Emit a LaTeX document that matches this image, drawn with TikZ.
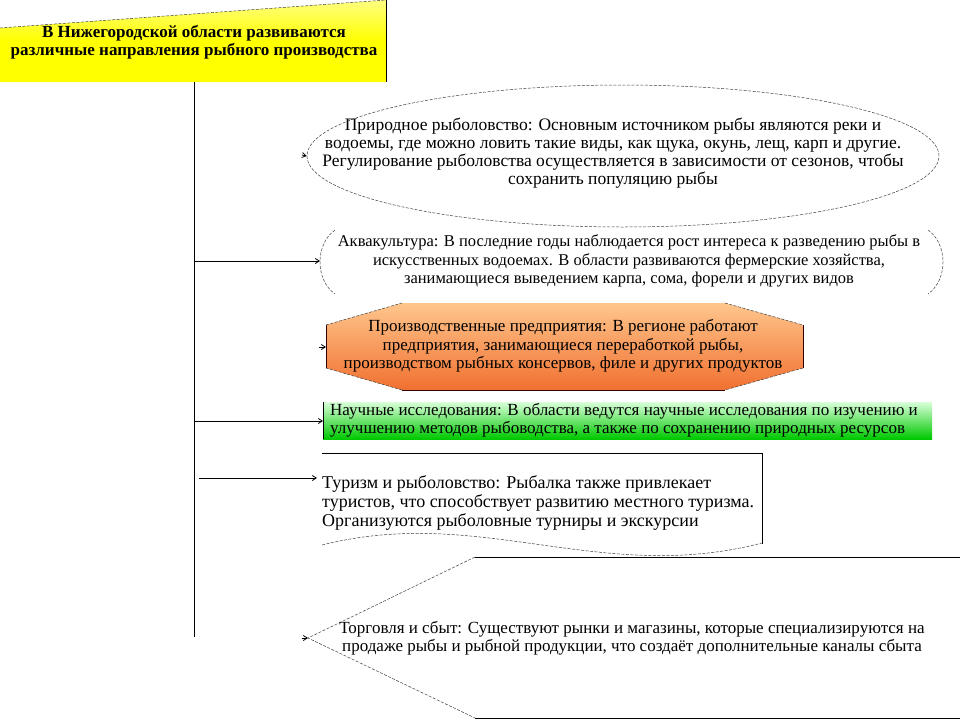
\documentclass[tikz,border=0pt]{standalone}
\usepackage{fontspec}
\setmainfont{Liberation Serif}
\usetikzlibrary{arrows.meta,shapes.geometric}
\begin{document}
\begin{tikzpicture}[x=1pt,y=-1pt,
  conn/.style={line width=0.8pt},
  arr/.style={conn,-{Straight Barb[length=4pt,width=5pt]}},
  txt/.style={font=\fontsize{17}{18.5}\selectfont, align=center, inner sep=0pt},
  ltxt/.style={txt, align=left, anchor=west},
  dashline/.style={line width=0.5pt, dash pattern=on 3pt off 1.5pt, black!75},
  solidline/.style={line width=0.8pt, black},
]
\useasboundingbox (0,0) rectangle (960,720);
\fill[white] (0,0) rectangle (960,720);

% title
\shade[top color=yellow!50!white, bottom color=yellow, middle color=yellow] (0,28) -- (386,0) -- (386,82) -- (0,82) -- cycle;
\draw[dashline] (0,28) -- (386,0);
\draw[solidline] (386,0) -- (386,82);
\node[font=\bfseries\fontsize{17}{17.5}\selectfont, align=center, inner sep=0pt] (title) at (194,42) {В Нижегородской области развиваются\\различные направления рыбного производства};

% ellipse
\node[ellipse, dashline, draw, minimum width=632pt, minimum height=142pt, inner sep=0pt] (ell) at (623,156) {};
\node[txt, font=\fontsize{17.5}{18}\selectfont] (ellT) at (613,153) {Природное рыболовство: Основным источником рыбы являются реки и\\водоемы, где можно ловить такие виды, как щука, окунь, лещ, карп и другие.\\Регулирование рыболовства осуществляется в зависимости от сезонов, чтобы\\сохранить популяцию рыбы};

% aquaculture
\draw[dashline] (335,230) .. controls (315,244) and (315,280) .. (335,294);
\draw[dashline] (928,230) .. controls (948,244) and (948,280) .. (928,294);
\coordinate (aqL) at (320,261);
\node[txt, font=\fontsize{16.5}{18.5}\selectfont] (aqT) at (629,261) {Аквакультура: В последние годы наблюдается рост интереса к разведению рыбы в\\искусственных водоемах. В области развиваются фермерские хозяйства,\\занимающиеся выведением карпа, сома, форели и других видов};

% production octagon
\shade[top color=orange!45!white, bottom color={rgb,255:red,240;green,112;blue,48}] (326,325) -- (402,303) -- (725,303) -- (803,325) -- (803,368) -- (725,390) -- (402,390) -- (326,368) -- cycle;
\draw[line width=0.6pt, black!80!red] (326,325) -- (326,368) (803,325) -- (803,368) (402,390) -- (725,390);
\draw[dashline] (326,325) -- (402,303) (725,303) -- (803,325) (803,368) -- (725,390) (402,390) -- (326,368);
\coordinate (prL) at (326,347);
\node[txt] (prT) at (563,346) {Производственные предприятия: В регионе работают\\предприятия, занимающиеся переработкой рыбы,\\производством рыбных консервов, филе и других продуктов};

% science
\shade[top color=green!15!white, bottom color={rgb,255:red,0;green,200;blue,0}] (323,402) rectangle (932,439);
\draw[solidline] (323,402) -- (323,439);
\coordinate (scL) at (323,421);
\node[ltxt] (scT) at (330,420) {Научные исследования: В области ведутся научные исследования по изучению и\\улучшению методов рыбоводства, а также по сохранению природных ресурсов};

% tourism
\draw[solidline] (322,453) -- (762,453) -- (762,544);
\draw[dashline] (322,545) .. controls (480,505) and (600,585) .. (762,543);
\coordinate (tuL) at (317,478);
\node[ltxt, font=\fontsize{18}{19}\selectfont] (tuT) at (322,503) {Туризм и рыболовство: Рыбалка также привлекает\\туристов, что способствует развитию местного туризма.\\Организуются рыболовные турниры и экскурсии};

% trade
\draw[solidline] (475,557) -- (960,557) (475,718) -- (960,718);
\draw[dashline] (475,557) -- (308,638) -- (475,718);
\coordinate (trL) at (308,638);
\node[txt] (trT) at (632,638) {Торговля и сбыт: Существуют рынки и магазины, которые специализируются на\\продаже рыбы и рыбной продукции, что создаёт дополнительные каналы сбыта};

% connectors
\coordinate (tTop) at (194,82);
\coordinate (tBot) at (194,637);
\draw[conn] (tTop) -- (tBot);
\coordinate (j1) at (194,261);
\coordinate (j2) at (194,421);
\coordinate (j3) at (199,478);
\draw[arr] (j1) -- (aqL);
\draw[arr] (j2) -- (scL);
\draw[arr] (j3) -- (tuL);
% stub arrowheads
\coordinate (s1) at (302,155);
\draw[arr] (s1) -- (ell.west);
\coordinate (s2) at (319,347);
\draw[arr] (s2) -- (prL);
\coordinate (s3) at (302,638);
\draw[arr] (s3) -- (trL);
\end{tikzpicture}
\end{document}
